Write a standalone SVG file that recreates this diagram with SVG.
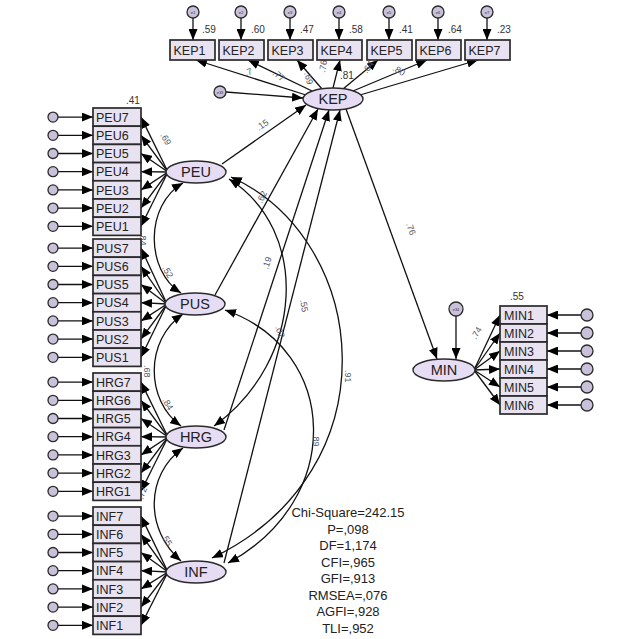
<svg xmlns="http://www.w3.org/2000/svg" width="637" height="639" viewBox="0 0 637 639">
<style>
.bg{fill:#fff}
.box{fill:#e9e2f1;stroke:#2a2a2a;stroke-width:1.7}
.lat{fill:#e6dcf3;stroke:#2a2a2a;stroke-width:1.4}
.err{fill:#c9c1da;stroke:#2a2a2a;stroke-width:1.3}
.ln{stroke:#111;stroke-width:1.3;fill:none;marker-end:url(#ah)}
.cv{stroke:#111;stroke-width:1.3;fill:none;marker-end:url(#ah);marker-start:url(#ah)}
.bt{font-family:"Liberation Sans",Arial,sans-serif;font-size:12.5px;fill:#222}
.lt{font-family:"Liberation Sans",Arial,sans-serif;font-size:14.5px;fill:#222;text-anchor:middle}
.et{font-family:"Liberation Sans",Arial,sans-serif;font-size:4px;fill:#333;text-anchor:middle}
.r2{font-family:"Liberation Sans",Arial,sans-serif;font-size:10px;fill:#333}
.cf{font-family:"Liberation Sans",Arial,sans-serif;font-size:9px;fill:#556}
.st{font-family:"Liberation Sans",Arial,sans-serif;font-size:13px;fill:#222;text-anchor:middle}
</style>
<defs>
<marker id="ah" markerUnits="userSpaceOnUse" markerWidth="12" markerHeight="9" refX="11" refY="4.5" orient="auto-start-reverse">
<path d="M0,0 L11,4.5 L0,9 z" fill="#000"/>
</marker>
</defs>
<rect class="bg" x="0" y="0" width="637" height="639"/>

<g id="connectors">
<line class="ln" x1="193" y1="18" x2="193" y2="40"/>
<line class="ln" x1="241" y1="18" x2="241" y2="40"/>
<line class="ln" x1="290" y1="18" x2="290" y2="40"/>
<line class="ln" x1="339" y1="18" x2="339" y2="40"/>
<line class="ln" x1="389" y1="18" x2="389" y2="40"/>
<line class="ln" x1="438" y1="18" x2="438" y2="40"/>
<line class="ln" x1="487" y1="18" x2="487" y2="40"/>
<line class="ln" x1="306" y1="95" x2="196" y2="60"/>
<line class="ln" x1="312" y1="91" x2="248" y2="60"/>
<line class="ln" x1="322" y1="89" x2="297" y2="60"/>
<line class="ln" x1="333" y1="88" x2="340" y2="60"/>
<line class="ln" x1="343" y1="89" x2="378" y2="60"/>
<line class="ln" x1="353" y1="91" x2="427" y2="60"/>
<line class="ln" x1="360" y1="95" x2="478" y2="60"/>
<line class="ln" x1="226" y1="92" x2="303" y2="98"/>
<line class="ln" x1="222" y1="164" x2="306" y2="105"/>
<line class="ln" x1="215" y1="295" x2="318" y2="109"/>
<line class="ln" x1="224" y1="430" x2="329" y2="110"/>
<line class="ln" x1="224" y1="563" x2="340" y2="110"/>
<line class="ln" x1="346" y1="109" x2="437" y2="359"/>
<line class="ln" x1="456" y1="316" x2="456" y2="359"/>
<path class="cv" d="M183,183 C145,205 145,270 181,293"/>
<path class="cv" d="M183,314 C145,340 145,400 181,426"/>
<path class="cv" d="M183,448 C145,475 145,530 181,561"/>
<path class="cv" d="M229,179 C310,230 305,360 214,426"/>
<path class="cv" d="M231,177 C370,240 395,470 212,558"/>
<path class="cv" d="M225,310 C340,350 345,500 228,563"/>
<line class="ln" x1="168" y1="172" x2="141" y2="117.1"/>
<line class="ln" x1="168" y1="172" x2="141" y2="135.3"/>
<line class="ln" x1="168" y1="172" x2="141" y2="153.5"/>
<line class="ln" x1="168" y1="172" x2="141" y2="171.7"/>
<line class="ln" x1="168" y1="172" x2="141" y2="189.9"/>
<line class="ln" x1="168" y1="172" x2="141" y2="208.1"/>
<line class="ln" x1="168" y1="172" x2="141" y2="226.3"/>
<line class="ln" x1="167" y1="304" x2="141" y2="248.1"/>
<line class="ln" x1="167" y1="304" x2="141" y2="266.3"/>
<line class="ln" x1="167" y1="304" x2="141" y2="284.5"/>
<line class="ln" x1="167" y1="304" x2="141" y2="302.7"/>
<line class="ln" x1="167" y1="304" x2="141" y2="320.9"/>
<line class="ln" x1="167" y1="304" x2="141" y2="339.1"/>
<line class="ln" x1="167" y1="304" x2="141" y2="357.3"/>
<line class="ln" x1="168" y1="437" x2="141" y2="382.1"/>
<line class="ln" x1="168" y1="437" x2="141" y2="400.3"/>
<line class="ln" x1="168" y1="437" x2="141" y2="418.5"/>
<line class="ln" x1="168" y1="437" x2="141" y2="436.7"/>
<line class="ln" x1="168" y1="437" x2="141" y2="454.9"/>
<line class="ln" x1="168" y1="437" x2="141" y2="473.1"/>
<line class="ln" x1="168" y1="437" x2="141" y2="491.3"/>
<line class="ln" x1="168" y1="572" x2="141" y2="516.1"/>
<line class="ln" x1="168" y1="572" x2="141" y2="534.3"/>
<line class="ln" x1="168" y1="572" x2="141" y2="552.5"/>
<line class="ln" x1="168" y1="572" x2="141" y2="570.7"/>
<line class="ln" x1="168" y1="572" x2="141" y2="588.9"/>
<line class="ln" x1="168" y1="572" x2="141" y2="607.1"/>
<line class="ln" x1="168" y1="572" x2="141" y2="625.3"/>
<line class="ln" x1="474" y1="370" x2="500" y2="315"/>
<line class="ln" x1="474" y1="370" x2="500" y2="333"/>
<line class="ln" x1="474" y1="370" x2="500" y2="351"/>
<line class="ln" x1="474" y1="370" x2="500" y2="369"/>
<line class="ln" x1="474" y1="370" x2="500" y2="387"/>
<line class="ln" x1="474" y1="370" x2="500" y2="405"/>
<g>
<line class="ln" x1="58" y1="117.1" x2="93" y2="117.1"/><line class="ln" x1="58" y1="135.3" x2="93" y2="135.3"/><line class="ln" x1="58" y1="153.5" x2="93" y2="153.5"/><line class="ln" x1="58" y1="171.7" x2="93" y2="171.7"/><line class="ln" x1="58" y1="189.9" x2="93" y2="189.9"/><line class="ln" x1="58" y1="208.1" x2="93" y2="208.1"/><line class="ln" x1="58" y1="226.3" x2="93" y2="226.3"/>
<line class="ln" x1="58" y1="248.1" x2="93" y2="248.1"/><line class="ln" x1="58" y1="266.3" x2="93" y2="266.3"/><line class="ln" x1="58" y1="284.5" x2="93" y2="284.5"/><line class="ln" x1="58" y1="302.7" x2="93" y2="302.7"/><line class="ln" x1="58" y1="320.9" x2="93" y2="320.9"/><line class="ln" x1="58" y1="339.1" x2="93" y2="339.1"/><line class="ln" x1="58" y1="357.3" x2="93" y2="357.3"/>
<line class="ln" x1="58" y1="382.1" x2="93" y2="382.1"/><line class="ln" x1="58" y1="400.3" x2="93" y2="400.3"/><line class="ln" x1="58" y1="418.5" x2="93" y2="418.5"/><line class="ln" x1="58" y1="436.7" x2="93" y2="436.7"/><line class="ln" x1="58" y1="454.9" x2="93" y2="454.9"/><line class="ln" x1="58" y1="473.1" x2="93" y2="473.1"/><line class="ln" x1="58" y1="491.3" x2="93" y2="491.3"/>
<line class="ln" x1="58" y1="516.1" x2="93" y2="516.1"/><line class="ln" x1="58" y1="534.3" x2="93" y2="534.3"/><line class="ln" x1="58" y1="552.5" x2="93" y2="552.5"/><line class="ln" x1="58" y1="570.7" x2="93" y2="570.7"/><line class="ln" x1="58" y1="588.9" x2="93" y2="588.9"/><line class="ln" x1="58" y1="607.1" x2="93" y2="607.1"/><line class="ln" x1="58" y1="625.3" x2="93" y2="625.3"/>
</g>
<line class="ln" x1="581" y1="315" x2="547" y2="315"/>
<line class="ln" x1="581" y1="333" x2="547" y2="333"/>
<line class="ln" x1="581" y1="351" x2="547" y2="351"/>
<line class="ln" x1="581" y1="369" x2="547" y2="369"/>
<line class="ln" x1="581" y1="387" x2="547" y2="387"/>
<line class="ln" x1="581" y1="405" x2="547" y2="405"/>
<text class="cf" transform="translate(246,76) rotate(-20)">.7</text>
<text class="cf" transform="translate(272,74) rotate(40)">.77</text>
<text class="cf" transform="translate(304,73) rotate(75)">.69</text>
<text class="cf" transform="translate(325,73) rotate(-80)">.76</text>
<text class="cf" transform="translate(367,74) rotate(-55)">.64</text>
<text class="cf" transform="translate(392,70) rotate(30)">.80</text>
<text class="cf" transform="translate(259,131) rotate(-35)">.15</text>
<text class="cf" transform="translate(262,204) rotate(-65)">.62</text>
<text class="cf" transform="translate(268,270) rotate(-72)">.19</text>
<text class="cf" transform="translate(300,300) rotate(80)">.55</text>
<text class="cf" transform="translate(275,327) rotate(70)">.02</text>
<text class="cf" transform="translate(345,370) rotate(90)">.91</text>
<text class="cf" transform="translate(313,434) rotate(90)">.89</text>
<text class="cf" transform="translate(406,224) rotate(70)">.76</text>
<text class="cf" transform="translate(140,233) rotate(90)">.84</text>
<text class="cf" transform="translate(144,365) rotate(90)">.68</text>
<text class="cf" transform="translate(143,500) rotate(-70)">.72</text>
<text class="cf" transform="translate(160,135) rotate(60)">.69</text>
<text class="cf" transform="translate(162,268) rotate(60)">.52</text>
<text class="cf" transform="translate(162,400) rotate(60)">.84</text>
<text class="cf" transform="translate(161,536) rotate(60)">.55</text>
<text class="cf" transform="translate(476,340) rotate(-60)">.74</text>
</g>

<g id="KEP"><ellipse class="lat" cx="333" cy="99" rx="30" ry="11"/><text class="lt" x="333" y="104">KEP</text><text class="r2" x="340" y="79">.81</text></g>
<g id="PEU"><ellipse class="lat" cx="196" cy="172" rx="30" ry="11"/><text class="lt" x="196" y="177">PEU</text></g>
<g id="PUS"><ellipse class="lat" cx="195" cy="304" rx="30" ry="11"/><text class="lt" x="195" y="309">PUS</text></g>
<g id="HRG"><ellipse class="lat" cx="196" cy="437" rx="30" ry="11"/><text class="lt" x="196" y="442">HRG</text></g>
<g id="INF"><ellipse class="lat" cx="196" cy="572" rx="30" ry="11"/><text class="lt" x="196" y="577">INF</text></g>
<g id="MIN"><ellipse class="lat" cx="444" cy="370" rx="31" ry="11"/><text class="lt" x="444" y="375">MIN</text></g>

<g id="e33"><circle class="err" cx="220" cy="92" r="6"/><text class="et" x="220" y="93.5">e33</text></g>
<g id="e34"><circle class="err" cx="456" cy="309" r="7"/><text class="et" x="456" y="310.5">e34</text></g>

<g id="KEP-indicators">
<g id="KEP1"><rect class="box" x="170" y="40" width="45" height="20"/><text class="bt" x="173.5" y="54.5">KEP1</text><circle class="err" cx="193" cy="12" r="6"/><text class="et" x="193" y="13.5">e1</text><text class="r2" x="202" y="33">.59</text></g>
<g id="KEP2"><rect class="box" x="219" y="40" width="45" height="20"/><text class="bt" x="222.5" y="54.5">KEP2</text><circle class="err" cx="241" cy="12" r="6"/><text class="et" x="241" y="13.5">e2</text><text class="r2" x="251" y="33">.60</text></g>
<g id="KEP3"><rect class="box" x="268" y="40" width="45" height="20"/><text class="bt" x="271.5" y="54.5">KEP3</text><circle class="err" cx="290" cy="12" r="6"/><text class="et" x="290" y="13.5">e3</text><text class="r2" x="300" y="33">.47</text></g>
<g id="KEP4"><rect class="box" x="317" y="40" width="45" height="20"/><text class="bt" x="320.5" y="54.5">KEP4</text><circle class="err" cx="339" cy="12" r="6"/><text class="et" x="339" y="13.5">e4</text><text class="r2" x="349" y="33">.58</text></g>
<g id="KEP5"><rect class="box" x="367" y="40" width="45" height="20"/><text class="bt" x="370.5" y="54.5">KEP5</text><circle class="err" cx="389" cy="12" r="6"/><text class="et" x="389" y="13.5">e5</text><text class="r2" x="399" y="33">.41</text></g>
<g id="KEP6"><rect class="box" x="416" y="40" width="45" height="20"/><text class="bt" x="419.5" y="54.5">KEP6</text><circle class="err" cx="438" cy="12" r="6"/><text class="et" x="438" y="13.5">e6</text><text class="r2" x="448" y="33">.64</text></g>
<g id="KEP7"><rect class="box" x="465" y="40" width="45" height="20"/><text class="bt" x="468.5" y="54.5">KEP7</text><circle class="err" cx="487" cy="12" r="6"/><text class="et" x="487" y="13.5">e7</text><text class="r2" x="497" y="33">.23</text></g>
</g>

<g id="PEU-indicators">
<text class="r2" x="126" y="104">.41</text>
<g id="PEU7"><rect class="box" x="93" y="108" width="48" height="18.2"/><text class="bt" x="96" y="121.7">PEU7</text><circle class="err" cx="53" cy="117.1" r="5"/></g>
<g id="PEU6"><rect class="box" x="93" y="126.2" width="48" height="18.2"/><text class="bt" x="96" y="139.9">PEU6</text><circle class="err" cx="53" cy="135.3" r="5"/></g>
<g id="PEU5"><rect class="box" x="93" y="144.4" width="48" height="18.2"/><text class="bt" x="96" y="158.1">PEU5</text><circle class="err" cx="53" cy="153.5" r="5"/></g>
<g id="PEU4"><rect class="box" x="93" y="162.6" width="48" height="18.2"/><text class="bt" x="96" y="176.3">PEU4</text><circle class="err" cx="53" cy="171.7" r="5"/></g>
<g id="PEU3"><rect class="box" x="93" y="180.8" width="48" height="18.2"/><text class="bt" x="96" y="194.5">PEU3</text><circle class="err" cx="53" cy="189.9" r="5"/></g>
<g id="PEU2"><rect class="box" x="93" y="199" width="48" height="18.2"/><text class="bt" x="96" y="212.7">PEU2</text><circle class="err" cx="53" cy="208.1" r="5"/></g>
<g id="PEU1"><rect class="box" x="93" y="217.2" width="48" height="18.2"/><text class="bt" x="96" y="230.9">PEU1</text><circle class="err" cx="53" cy="226.3" r="5"/></g>
</g>

<g id="PUS-indicators">
<g id="PUS7"><rect class="box" x="93" y="239" width="48" height="18.2"/><text class="bt" x="96" y="252.7">PUS7</text><circle class="err" cx="53" cy="248.1" r="5"/></g>
<g id="PUS6"><rect class="box" x="93" y="257.2" width="48" height="18.2"/><text class="bt" x="96" y="270.9">PUS6</text><circle class="err" cx="53" cy="266.3" r="5"/></g>
<g id="PUS5"><rect class="box" x="93" y="275.4" width="48" height="18.2"/><text class="bt" x="96" y="289.1">PUS5</text><circle class="err" cx="53" cy="284.5" r="5"/></g>
<g id="PUS4"><rect class="box" x="93" y="293.6" width="48" height="18.2"/><text class="bt" x="96" y="307.3">PUS4</text><circle class="err" cx="53" cy="302.7" r="5"/></g>
<g id="PUS3"><rect class="box" x="93" y="311.8" width="48" height="18.2"/><text class="bt" x="96" y="325.5">PUS3</text><circle class="err" cx="53" cy="320.9" r="5"/></g>
<g id="PUS2"><rect class="box" x="93" y="330" width="48" height="18.2"/><text class="bt" x="96" y="343.7">PUS2</text><circle class="err" cx="53" cy="339.1" r="5"/></g>
<g id="PUS1"><rect class="box" x="93" y="348.2" width="48" height="18.2"/><text class="bt" x="96" y="361.9">PUS1</text><circle class="err" cx="53" cy="357.3" r="5"/></g>
</g>

<g id="HRG-indicators">
<g id="HRG7"><rect class="box" x="93" y="373" width="48" height="18.2"/><text class="bt" x="96" y="386.7">HRG7</text><circle class="err" cx="53" cy="382.1" r="5"/></g>
<g id="HRG6"><rect class="box" x="93" y="391.2" width="48" height="18.2"/><text class="bt" x="96" y="404.9">HRG6</text><circle class="err" cx="53" cy="400.3" r="5"/></g>
<g id="HRG5"><rect class="box" x="93" y="409.4" width="48" height="18.2"/><text class="bt" x="96" y="423.1">HRG5</text><circle class="err" cx="53" cy="418.5" r="5"/></g>
<g id="HRG4"><rect class="box" x="93" y="427.6" width="48" height="18.2"/><text class="bt" x="96" y="441.3">HRG4</text><circle class="err" cx="53" cy="436.7" r="5"/></g>
<g id="HRG3"><rect class="box" x="93" y="445.8" width="48" height="18.2"/><text class="bt" x="96" y="459.5">HRG3</text><circle class="err" cx="53" cy="454.9" r="5"/></g>
<g id="HRG2"><rect class="box" x="93" y="464" width="48" height="18.2"/><text class="bt" x="96" y="477.7">HRG2</text><circle class="err" cx="53" cy="473.1" r="5"/></g>
<g id="HRG1"><rect class="box" x="93" y="482.2" width="48" height="18.2"/><text class="bt" x="96" y="495.9">HRG1</text><circle class="err" cx="53" cy="491.3" r="5"/></g>
</g>

<g id="INF-indicators">
<g id="INF7"><rect class="box" x="93" y="507" width="48" height="18.2"/><text class="bt" x="96" y="520.7">INF7</text><circle class="err" cx="53" cy="516.1" r="5"/></g>
<g id="INF6"><rect class="box" x="93" y="525.2" width="48" height="18.2"/><text class="bt" x="96" y="538.9">INF6</text><circle class="err" cx="53" cy="534.3" r="5"/></g>
<g id="INF5"><rect class="box" x="93" y="543.4" width="48" height="18.2"/><text class="bt" x="96" y="557.1">INF5</text><circle class="err" cx="53" cy="552.5" r="5"/></g>
<g id="INF4"><rect class="box" x="93" y="561.6" width="48" height="18.2"/><text class="bt" x="96" y="575.3">INF4</text><circle class="err" cx="53" cy="570.7" r="5"/></g>
<g id="INF3"><rect class="box" x="93" y="579.8" width="48" height="18.2"/><text class="bt" x="96" y="593.5">INF3</text><circle class="err" cx="53" cy="588.9" r="5"/></g>
<g id="INF2"><rect class="box" x="93" y="598" width="48" height="18.2"/><text class="bt" x="96" y="611.7">INF2</text><circle class="err" cx="53" cy="607.1" r="5"/></g>
<g id="INF1"><rect class="box" x="93" y="616.2" width="48" height="18.2"/><text class="bt" x="96" y="629.9">INF1</text><circle class="err" cx="53" cy="625.3" r="5"/></g>
</g>

<g id="MIN-indicators">
<text class="r2" x="510" y="300">.55</text>
<g id="MIN1"><rect class="box" x="500" y="306" width="47" height="18"/><text class="bt" x="504" y="319.5">MIN1</text><circle class="err" cx="587" cy="315" r="6"/></g>
<g id="MIN2"><rect class="box" x="500" y="324" width="47" height="18"/><text class="bt" x="504" y="337.5">MIN2</text><circle class="err" cx="587" cy="333" r="6"/></g>
<g id="MIN3"><rect class="box" x="500" y="342" width="47" height="18"/><text class="bt" x="504" y="355.5">MIN3</text><circle class="err" cx="587" cy="351" r="6"/></g>
<g id="MIN4"><rect class="box" x="500" y="360" width="47" height="18"/><text class="bt" x="504" y="373.5">MIN4</text><circle class="err" cx="587" cy="369" r="6"/></g>
<g id="MIN5"><rect class="box" x="500" y="378" width="47" height="18"/><text class="bt" x="504" y="391.5">MIN5</text><circle class="err" cx="587" cy="387" r="6"/></g>
<g id="MIN6"><rect class="box" x="500" y="396" width="47" height="18"/><text class="bt" x="504" y="409.5">MIN6</text><circle class="err" cx="587" cy="405" r="6"/></g>
</g>

<g id="fit-stats">
<text class="st" x="348" y="517">Chi-Square=242.15</text>
<text class="st" x="348" y="533.5">P=,098</text>
<text class="st" x="348" y="550">DF=1,174</text>
<text class="st" x="348" y="566.5">CFI=,965</text>
<text class="st" x="348" y="583">GFI=,913</text>
<text class="st" x="348" y="599.5">RMSEA=,076</text>
<text class="st" x="348" y="616">AGFI=,928</text>
<text class="st" x="348" y="632.5">TLI=,952</text>
</g>
</svg>
